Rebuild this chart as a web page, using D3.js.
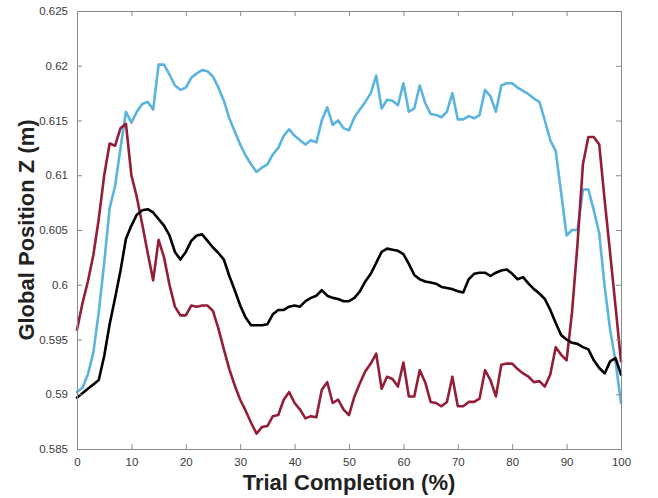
<!DOCTYPE html>
<html>
<head>
<meta charset="utf-8">
<script src="https://cdn.jsdelivr.net/npm/d3@7"></script>
<style>
  html, body { margin: 0; padding: 0; background: #fff; }
  svg { display: block; }
  text { font-family: "Liberation Sans", Arial, Helvetica, sans-serif; }
</style>
</head>
<body>
<svg id="chart" width="658" height="498"></svg>
<script>
// ---- data (Trial completion 0..100 %, global position Z in m) ----
const completion = d3.range(0, 101);
const blueSeries = [
  0.5902,0.5906,0.5918,0.5938,0.5975,0.6020,0.6070,0.6090,0.6125,0.6158,
  0.6148,0.6158,0.6165,0.6167,0.6160,0.6201,0.6201,0.6192,0.6182,0.6178,
  0.6180,0.6189,0.6193,0.6196,0.6195,0.6190,0.6180,0.6168,0.6152,0.6140,
  0.6128,0.6118,0.6110,0.6103,0.6107,0.6110,0.6119,0.6125,0.6136,0.6142,
  0.6136,0.6132,0.6128,0.6132,0.6130,0.6150,0.6162,0.6146,0.6150,0.6143,
  0.6141,0.6153,0.6160,0.6167,0.6175,0.6191,0.6161,0.6169,0.6168,0.6164,
  0.6184,0.6158,0.6161,0.6182,0.6166,0.6156,0.6155,0.6153,0.6158,0.6175,
  0.6151,0.6151,0.6154,0.6152,0.6155,0.6178,0.6172,0.6158,0.6182,0.6184,
  0.6184,0.6180,0.6177,0.6174,0.6170,0.6167,0.6150,0.6132,0.6122,0.6084,
  0.6045,0.6050,0.6050,0.6087,0.6087,0.6068,0.6047,0.5998,0.5959,0.5930,
  0.5892
];
const redSeries = [
  0.5959,0.5983,0.6003,0.6027,0.6060,0.6100,0.6129,0.6127,0.6143,0.6147,
  0.6100,0.6080,0.6055,0.6029,0.6004,0.6041,0.6025,0.6000,0.5980,0.5972,
  0.5972,0.5981,0.5980,0.5981,0.5981,0.5976,0.5960,0.5941,0.5923,0.5908,
  0.5895,0.5885,0.5874,0.5864,0.5870,0.5871,0.5880,0.5881,0.5895,0.5902,
  0.5892,0.5886,0.5878,0.5880,0.5879,0.5904,0.5911,0.5892,0.5895,0.5886,
  0.5881,0.5898,0.5910,0.5921,0.5928,0.5937,0.5905,0.5916,0.5914,0.5907,
  0.5929,0.5898,0.5898,0.5922,0.5911,0.5893,0.5892,0.5889,0.5893,0.5916,
  0.5889,0.5889,0.5893,0.5893,0.5896,0.5922,0.5913,0.5898,0.5927,0.5928,
  0.5928,0.5923,0.5919,0.5916,0.5911,0.5912,0.5907,0.5918,0.5943,0.5936,
  0.5931,0.5975,0.6037,0.6110,0.6135,0.6135,0.6128,0.6077,0.6029,0.5980,
  0.5930
];
const blackSeries = [
  0.5897,0.5901,0.5905,0.5909,0.5913,0.5935,0.5964,0.5988,0.6013,0.6042,
  0.6054,0.6064,0.6068,0.6069,0.6066,0.6060,0.6054,0.6045,0.6030,0.6023,
  0.6030,0.6040,0.6045,0.6046,0.6040,0.6034,0.6029,0.6023,0.6008,0.5995,
  0.5981,0.5970,0.5963,0.5963,0.5963,0.5964,0.5973,0.5977,0.5977,0.5980,
  0.5981,0.5980,0.5985,0.5988,0.5990,0.5995,0.5990,0.5988,0.5987,0.5985,
  0.5985,0.5988,0.5994,0.6003,0.6010,0.6020,0.6030,0.6033,0.6032,0.6031,
  0.6028,0.6019,0.6009,0.6005,0.6003,0.6002,0.6001,0.5998,0.5997,0.5996,
  0.5994,0.5993,0.6005,0.6010,0.6011,0.6011,0.6008,0.6011,0.6013,0.6014,
  0.6010,0.6005,0.6007,0.6001,0.5996,0.5992,0.5987,0.5977,0.5965,0.5954,
  0.5950,0.5947,0.5946,0.5943,0.5941,0.5931,0.5924,0.5919,0.5930,0.5933,
  0.5918
];
const xTicks = [0,10,20,30,40,50,60,70,80,90,100];
const yTicks = [0.585,0.59,0.595,0.6,0.605,0.61,0.615,0.62,0.625];
const yTickLabels = ["0.585","0.59","0.595","0.6","0.605","0.61","0.615","0.62","0.625"];
const seriesList = [
  { name: "blue", values: blueSeries, color: "#5ab4de" },
  { name: "red", values: redSeries, color: "#941d38" },
  { name: "black", values: blackSeries, color: "#000000" }
];

// ---- layout ----
const svg = d3.select("#chart");
const mLeft = 77, mRight = 621, mTop = 11, mBottom = 449;
const x = d3.scaleLinear().domain([0, 100]).range([mLeft, mRight]);
const y = d3.scaleLinear().domain([0.585, 0.625]).range([mBottom, mTop]);

svg.append("rect").attr("width", 658).attr("height", 498).attr("fill", "#fff");

const frameColor = "#8a8a8a";
const tickLen = 5;

const xAxisBottom = d3.axisBottom(x).tickValues(xTicks).tickSize(-tickLen).tickPadding(9)
  .tickFormat(d3.format("d"));
const xAxisTop = d3.axisTop(x).tickValues(xTicks).tickSize(-tickLen).tickFormat("");
const yAxisLeft = d3.axisLeft(y).tickValues(yTicks).tickSize(-tickLen).tickPadding(9)
  .tickFormat((d, i) => yTickLabels[i]);
const yAxisRight = d3.axisRight(y).tickValues(yTicks).tickSize(-tickLen).tickFormat("");

function styleAxis(g) {
  g.select(".domain").attr("stroke", frameColor).attr("stroke-width", 1);
  g.selectAll(".tick line").attr("stroke", frameColor).attr("stroke-width", 1);
  g.selectAll(".tick text").attr("fill", "#3a3a3a").style("font-size", "11.5px")
    .style("font-family", "'Liberation Sans', Arial, Helvetica, sans-serif");
}

const line = d3.line()
  .x((d, i) => x(completion[i]))
  .y(d => y(d));

svg.append("g").attr("class", "lines")
  .selectAll("path")
  .data(seriesList)
  .join("path")
  .attr("d", s => line(s.values))
  .attr("fill", "none")
  .attr("stroke", s => s.color)
  .attr("stroke-width", 2.6)
  .attr("stroke-linejoin", "round")
  .attr("stroke-linecap", "round");

svg.append("g").attr("transform", `translate(0,${mBottom})`).call(xAxisBottom).call(styleAxis);
svg.append("g").attr("transform", `translate(0,${mTop})`).call(xAxisTop).call(styleAxis);
svg.append("g").attr("transform", `translate(${mLeft},0)`).call(yAxisLeft).call(styleAxis);
svg.append("g").attr("transform", `translate(${mRight},0)`).call(yAxisRight).call(styleAxis);

svg.append("text")
  .attr("x", (mLeft + mRight) / 2)
  .attr("y", 490)
  .attr("text-anchor", "middle")
  .attr("font-weight", "bold")
  .attr("font-size", 22)
  .attr("fill", "#222")
  .text("Trial Completion (%)");

svg.append("text")
  .attr("transform", `translate(34,${(mTop + mBottom) / 2}) rotate(-90)`)
  .attr("text-anchor", "middle")
  .attr("font-weight", "bold")
  .attr("font-size", 22)
  .attr("fill", "#222")
  .text("Global Position Z (m)");
</script>
</body>
</html>
